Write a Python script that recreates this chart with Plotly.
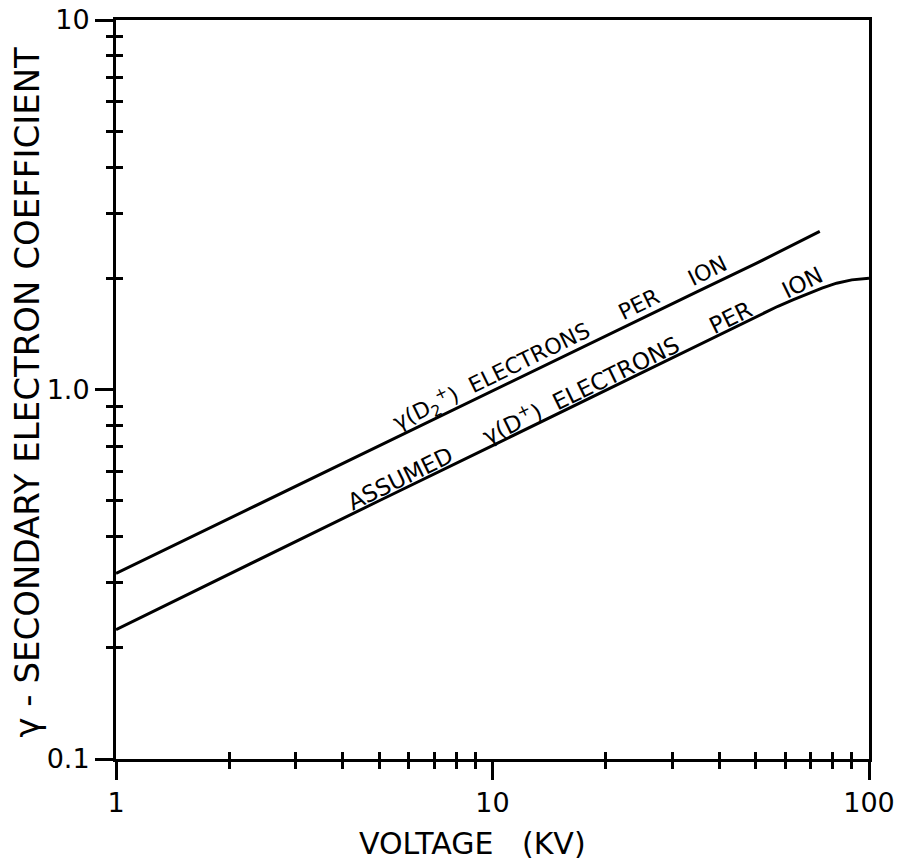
import plotly.graph_objects as go

# Upper curve: gamma(D2+) electrons per ion
v_d2 = [1, 2, 3, 5, 10, 20, 35, 50, 74]
g_d2 = [0.318, 0.448, 0.547, 0.704, 0.994, 1.40, 1.84, 2.19, 2.68]

# Lower curve: assumed gamma(D+) electrons per ion
v_d = [1, 2, 5, 10, 20, 40, 57.3, 63, 69, 75, 82, 90, 100]
g_d = [0.224, 0.317, 0.50, 0.705, 0.995, 1.41, 1.68, 1.75, 1.82, 1.88, 1.94, 1.98, 2.0]

x_major = [1, 10, 100]
x_major_text = ["1", "10", "100"]
y_major = [0.1, 1, 10]
y_major_text = ["0.1", "1.0", "10"]
x_minor = [2, 3, 4, 5, 6, 7, 8, 9, 20, 30, 40, 50, 60, 70, 80, 90]
y_minor = [0.2, 0.3, 0.4, 0.5, 0.6, 0.7, 0.8, 0.9, 2, 3, 4, 5, 6, 7, 8, 9]

FONT = "DejaVu Sans"
NB = "\u00a0"

fig = go.Figure()
fig.add_trace(go.Scatter(x=v_d2, y=g_d2, mode="lines",
                         line=dict(color="black", width=3), showlegend=False))
fig.add_trace(go.Scatter(x=v_d, y=g_d, mode="lines",
                         line=dict(color="black", width=3), showlegend=False))
# invisible trace so the overlay axes (inner halves of crossing ticks) are drawn
fig.add_trace(go.Scatter(x=v_d2, y=g_d2, mode="lines", xaxis="x2", yaxis="y2",
                         line=dict(color="rgba(0,0,0,0)", width=0),
                         hoverinfo="skip", showlegend=False))

axis_common = dict(type="log", showgrid=False, zeroline=False, automargin=False,
                   linecolor="black", linewidth=3, ticks="outside",
                   ticklen=18, tickwidth=2.5, tickcolor="black",
                   ticklabeloverflow="allow",
                   tickfont=dict(family=FONT, size=27, color="black"))

overlay_common = dict(type="log", showline=False, showgrid=False, zeroline=False,
                      showticklabels=False, ticks="inside", ticklen=7,
                      tickwidth=2.5, tickcolor="black", tickmode="array",
                      automargin=False)

fig.update_layout(
    width=909, height=863,
    margin=dict(l=116, r=40, t=20, b=104),
    paper_bgcolor="white", plot_bgcolor="white",
    xaxis=dict(**axis_common, range=[0, 2], tickmode="array",
               tickvals=x_major, ticktext=x_major_text, mirror=True,
               showline=True,
               minor=dict(ticks="outside", ticklen=7, tickwidth=2.5,
                          tickcolor="black", tickvals=x_minor)),
    yaxis=dict(**axis_common, range=[-1, 1], tickmode="array",
               tickvals=y_major, ticktext=y_major_text, mirror=True,
               showline=True,
               minor=dict(ticks="outside", ticklen=7, tickwidth=2.5,
                          tickcolor="black", tickvals=y_minor)),
    xaxis2=dict(**overlay_common, range=[0, 2], overlaying="x", anchor="y",
                side="bottom", tickvals=x_minor),
    yaxis2=dict(**overlay_common, range=[-1, 1], overlaying="y", anchor="x",
                side="left", tickvals=y_minor),
)

# axis titles
fig.add_annotation(xref="paper", yref="paper", x=0.474, y=-0.115,
                   xanchor="center", yanchor="middle",
                   text="VOLTAGE" + NB * 3 + "(KV)", showarrow=False,
                   font=dict(family=FONT, size=30, color="black"))
fig.add_annotation(xref="paper", yref="paper", x=-0.118, y=0.496,
                   xanchor="center", yanchor="middle",
                   text="γ - SECONDARY ELECTRON COEFFICIENT", showarrow=False,
                   textangle=-90,
                   font=dict(family=FONT, size=34, color="black"))

# curve labels
fig.add_annotation(xref="paper", yref="paper", x=0.590, y=0.563,
                   xanchor="center", yanchor="middle",
                   text="γ(D<sub>2</sub><sup>+</sup>)" + NB * 2 + "ELECTRONS" + NB * 5
                        + "PER" + NB * 5 + "ION",
                   showarrow=False, textangle=-26,
                   font=dict(family=FONT, size=22, color="black"))
fig.add_annotation(xref="paper", yref="paper", x=0.622, y=0.503,
                   xanchor="center", yanchor="middle",
                   text="ASSUMED" + NB * 5 + "γ(D<sup>+</sup>)" + NB * 2 + "ELECTRONS"
                        + NB * 5 + "PER" + NB * 5 + "ION",
                   showarrow=False, textangle=-26,
                   font=dict(family=FONT, size=23, color="black"))

fig.write_html("out.html",
               config={"displayModeBar": False},
               post_script="document.body.style.margin='0px';"
                           "document.body.style.overflow='hidden';")
